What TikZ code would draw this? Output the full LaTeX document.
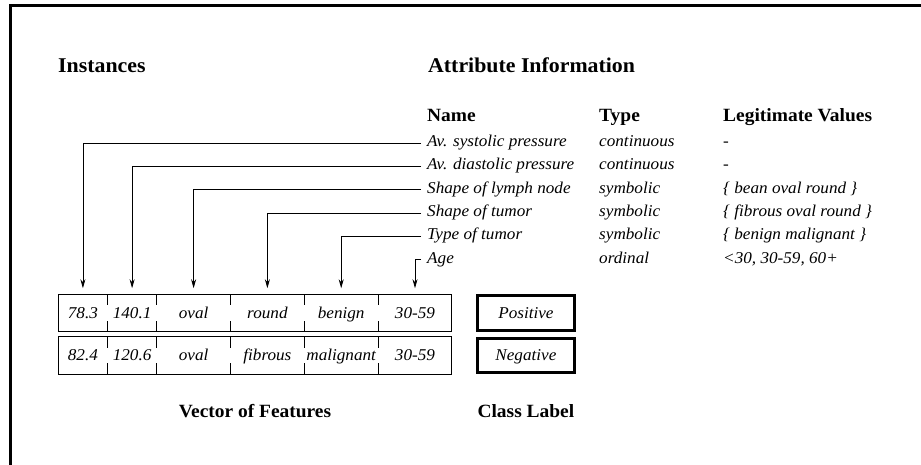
\documentclass[tikz,border=0pt]{standalone}
\usepackage{fontspec}
\setmainfont{Liberation Serif}[FakeStretch=1.04]
\usetikzlibrary{arrows.meta}

\begin{document}
\begin{tikzpicture}[
    x=1bp,y=-1bp,>={Stealth[length=9bp,width=5bp]},
    heading/.style={anchor=base west,inner sep=0,font=\fontsize{18.7bp}{21bp}\selectfont\bfseries},
    top heading/.style={heading,font=\fontsize{21bp}{24bp}\selectfont\bfseries},
    caption text/.style={anchor=base,inner sep=0,font=\fontsize{18.7bp}{21bp}\selectfont\bfseries},
    attr node/.style={anchor=base west,inner xsep=6bp,inner ysep=0,text height=11bp,
      text depth=3.6bp,font=\fontsize{16.5bp}{19bp}\selectfont\itshape},
    info node/.style={anchor=base west,inner sep=0,font=\fontsize{16.5bp}{19bp}\selectfont\itshape},
    vec cell/.style={minimum height=37.5bp,inner sep=0,outer sep=0,text height=11bp,
      text depth=0bp,font=\fontsize{16.5bp}{19bp}\selectfont\itshape},
    narrow cell/.style={vec cell,minimum width=49.2bp},
    wide cell/.style={vec cell,minimum width=73.8bp},
    class box/.style={draw,line width=3bp,minimum width=96.7bp,minimum height=34.4bp,
      inner sep=0,text height=11bp,text depth=0bp,
      font=\fontsize{16.5bp}{19bp}\selectfont\itshape},
    feature arrow/.style={->,line width=0.8bp,shorten >=6bp},
    table line/.style={line width=0.9bp}
  ]
    \useasboundingbox (0,0) rectangle (921,465);
    \draw[line width=3.5bp] (10.3,470) -- (10.3,5.7) -- (925,5.7);

    \node[top heading] (inst) at (58,73) {Instances};
    \node[top heading] (attr) at (428,73) {Attribute Information};
    \node[heading] (name) at (427,121.7) {Name};
    \node[heading] (type) at (599,121.7) {Type};
    \node[heading] (legit) at (723,121.7) {Legitimate Values};

    \node[attr node] (sys) at (421,146.7) {Av. systolic pressure};
    \node[attr node] (dia) at (421,170) {Av. diastolic pressure};
    \node[attr node] (lymph) at (421,193.3) {Shape of lymph node};
    \node[attr node] (shape) at (421,216.7) {Shape of tumor};
    \node[attr node] (kind) at (421,240) {Type of tumor};
    \node[attr node] (age) at (421,263.3) {Age};

    \node[info node] (sys t) at (599,146.7) {continuous};
    \node[info node] (dia t) at (599,170) {continuous};
    \node[info node] (lymph t) at (599,193.3) {symbolic};
    \node[info node] (shape t) at (599,216.7) {symbolic};
    \node[info node] (kind t) at (599,240) {symbolic};
    \node[info node] (age t) at (599,263.3) {ordinal};

    \node[info node] (sys v) at (723,146.7) {-};
    \node[info node] (dia v) at (723,170) {-};
    \node[info node] (lymph v) at (723,193.3) {\{ bean oval round \}};
    \node[info node] (shape v) at (723,216.7) {\{ fibrous oval round \}};
    \node[info node] (kind v) at (723,240) {\{ benign malignant \}};
    \node[info node] (age v) at (723,263.3) {<30, 30-59, 60+};

    \node[narrow cell] (a1) at (82.9,313) {78.3};
    \node[narrow cell] (a2) at (132.1,313) {140.1};
    \node[wide cell] (a3) at (193.6,313) {oval};
    \node[wide cell] (a4) at (267.4,313) {round};
    \node[wide cell] (a5) at (341.2,313) {benign};
    \node[wide cell] (a6) at (415.0,313) {30-59};

    \node[narrow cell] (b1) at (82.9,355.5) {82.4};
    \node[narrow cell] (b2) at (132.1,355.5) {120.6};
    \node[wide cell] (b3) at (193.6,355.5) {oval};
    \node[wide cell] (b4) at (267.4,355.5) {fibrous};
    \node[wide cell] (b5) at (341.2,355.5) {malignant};
    \node[wide cell] (b6) at (415.0,355.5) {30-59};

    \draw[table line] (a1.north west) rectangle (a6.south east);
    \draw[table line] (a1.north east) -- ++(0,11) (a1.south east) -- ++(0,-11)
      (a2.north east) -- ++(0,11) (a2.south east) -- ++(0,-11)
      (a3.north east) -- ++(0,11) (a3.south east) -- ++(0,-11)
      (a4.north east) -- ++(0,11) (a4.south east) -- ++(0,-11)
      (a5.north east) -- ++(0,11) (a5.south east) -- ++(0,-11);
    \draw[table line] (b1.north west) rectangle (b6.south east);
    \draw[table line] (b1.north east) -- ++(0,11) (b1.south east) -- ++(0,-11)
      (b2.north east) -- ++(0,11) (b2.south east) -- ++(0,-11)
      (b3.north east) -- ++(0,11) (b3.south east) -- ++(0,-11)
      (b4.north east) -- ++(0,11) (b4.south east) -- ++(0,-11)
      (b5.north east) -- ++(0,11) (b5.south east) -- ++(0,-11);

    \node[class box] (pos) at (525.9,313) {Positive};
    \node[class box] (neg) at (525.9,355.5) {Negative};

    \node[caption text] (vec) at (255,417) {Vector of Features};
    \node[caption text] (cls) at (525.9,417) {Class Label};

    \draw[feature arrow] (sys.west) -| (a1.north);
    \draw[feature arrow] (dia.west) -| (a2.north);
    \draw[feature arrow] (lymph.west) -| (a3.north);
    \draw[feature arrow] (shape.west) -| (a4.north);
    \draw[feature arrow] (kind.west) -| (a5.north);
    \draw[feature arrow] (age.west) -| (a6.north);
  \end{tikzpicture}
\end{document}
